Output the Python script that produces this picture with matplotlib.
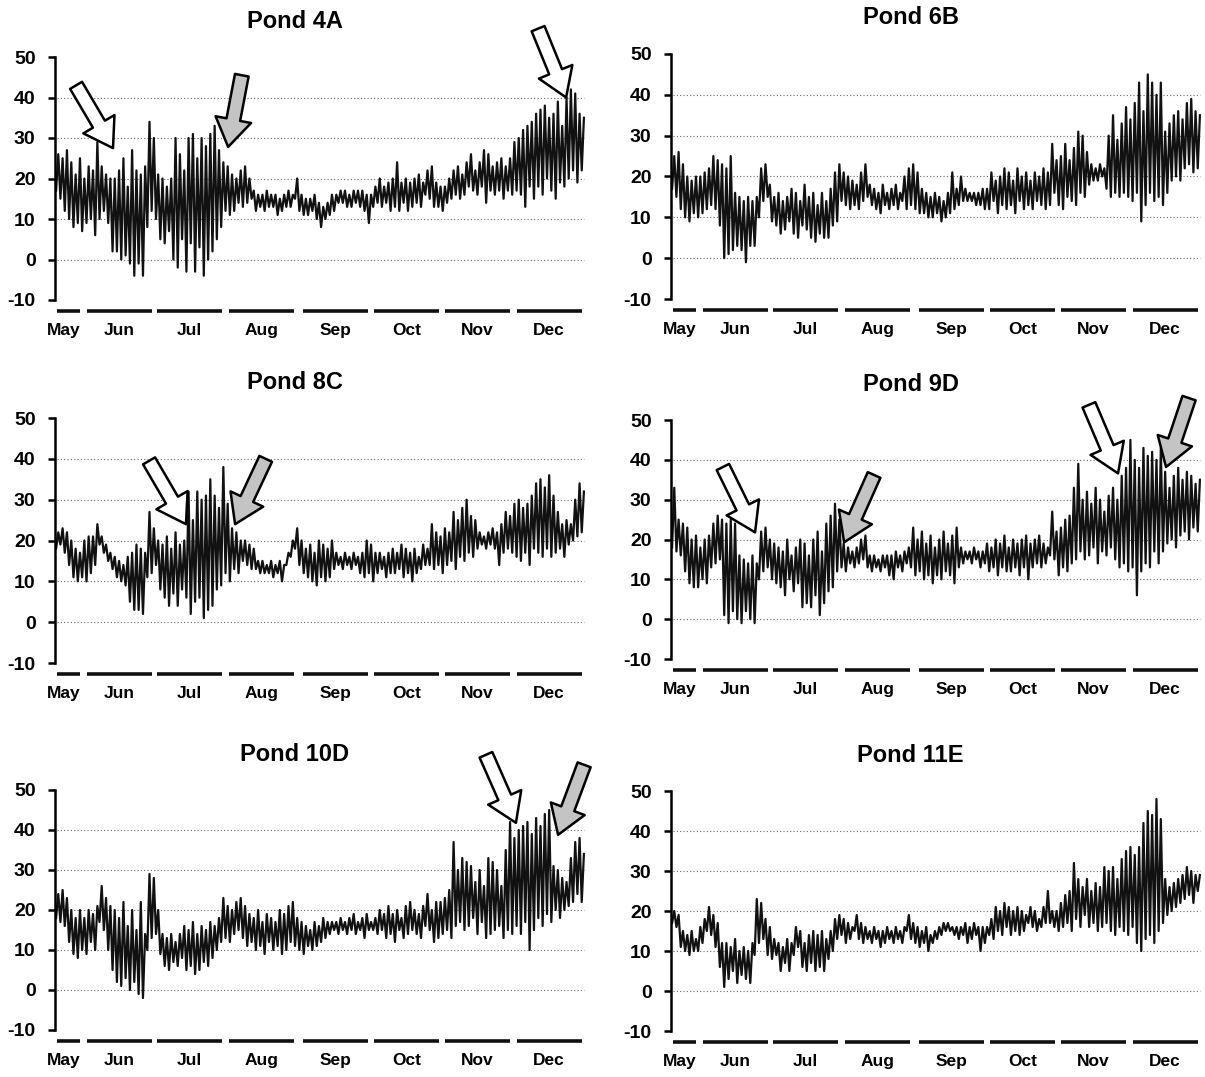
import numpy as np
import matplotlib.pyplot as plt

plt.rcParams['font.family'] = ['Liberation Sans', 'DejaVu Sans']
plt.rcParams['axes.unicode_minus'] = False

# month bars under each panel (x in days from the start of the record)
months = ['May', 'Jun', 'Jul', 'Aug', 'Sep', 'Oct', 'Nov', 'Dec']
month_start = [1, 14.7, 47, 80.3, 114, 147, 179.5, 212.5]
month_end = [11.5, 44.5, 77, 110, 144, 177, 209.5, 242.5]
month_label_x = [4, 29.6, 62, 95, 129, 162, 194.5, 227.5]

# low / high reading for every 2-day block
p4a_lo = [17, 15, 12, 10, 8, 9,
          7, 9, 10, 6, 10, 12, 9, 2,
          2, 0, 1, -1, -4, -1, -4, 8, 12,
          10, 5, 4, 7, 0, -2, 5, -3, 4, -3, 3, -4, 0, 2, 5, 8,
          12, 11, 12, 14, 13, 14, 15, 12, 13, 12, 13, 13, 11, 12, 13, 13, 15,
          12, 11, 11, 12, 10, 8, 10, 11, 12, 14, 14, 13, 13, 14, 13, 12, 9,
          13, 14, 13, 14, 12, 13, 12, 14, 12, 13, 14, 13, 16, 15, 13, 13,
          12, 14, 15, 16, 15, 16, 18, 17, 16, 18, 14, 17, 16, 17, 15, 17, 16,
          17, 16, 13, 18, 15, 18, 16, 20, 17, 15, 19, 18, 20, 22, 19, 22]
p4a_hi = [26, 25, 27, 24, 21, 25,
          20, 23, 22, 29, 23, 21, 20, 20,
          22, 25, 18, 27, 22, 21, 23, 34, 30,
          21, 20, 18, 20, 30, 26, 22, 30, 31, 25, 30, 28, 31, 33, 27, 24,
          23, 21, 20, 22, 23, 20, 17, 16, 16, 17, 16, 16, 15, 16, 17, 16, 20,
          16, 15, 15, 16, 14, 13, 14, 16, 16, 17, 17, 16, 17, 17, 17, 16, 16,
          18, 20, 18, 19, 20, 24, 19, 20, 19, 20, 21, 19, 22, 23, 19, 18,
          18, 20, 22, 23, 21, 24, 26, 22, 24, 27, 26, 23, 24, 25, 23, 25, 29,
          30, 32, 33, 34, 36, 37, 38, 35, 36, 39, 33, 40, 42, 41, 36, 35]

p6b_lo = [17, 15, 12, 10, 9, 11,
          10, 11, 12, 13, 12, 8, 0, 1, 2, 3, 2, -1, 3, 3, 10, 14, 15,
          9, 8, 6, 7, 9, 6, 5, 8, 7, 5, 4, 6, 5, 5, 8, 9,
          14, 13, 12, 13, 12, 14, 15, 13, 12, 11, 13, 12, 13, 12, 14, 12, 13,
          12, 11, 11, 10, 10, 11, 9, 10, 11, 12, 13, 14, 14, 14, 13, 13, 12,
          12, 14, 11, 13, 12, 13, 11, 14, 12, 13, 12, 14, 13, 12, 13, 16,
          13, 12, 15, 14, 13, 16, 15, 18, 19, 19, 20, 17, 15, 16, 15, 16, 15,
          14, 16, 9, 13, 16, 14, 15, 13, 16, 19, 20, 19, 22, 23, 21, 22]
p6b_hi = [25, 26, 23, 20, 19, 20,
          20, 21, 22, 25, 24, 23, 22, 25, 16, 15, 14, 15, 14, 15, 22, 23, 18,
          15, 16, 14, 15, 17, 16, 14, 18, 15, 16, 13, 16, 14, 17, 21, 23,
          21, 20, 19, 18, 21, 23, 18, 17, 16, 18, 16, 17, 18, 16, 20, 22, 23,
          21, 17, 16, 15, 16, 15, 14, 16, 21, 17, 20, 17, 16, 16, 16, 17, 17,
          21, 19, 20, 22, 21, 19, 22, 20, 21, 19, 21, 20, 22, 21, 28, 24,
          25, 28, 24, 27, 31, 30, 26, 23, 22, 23, 22, 30, 35, 29, 33, 37, 34,
          38, 43, 36, 45, 43, 40, 43, 31, 33, 35, 36, 34, 38, 39, 36, 35]

p8c_lo = [18, 19, 17, 14, 11, 10,
          11, 10, 12, 14, 19, 17, 15, 13, 11, 10, 9, 5, 3, 3, 2, 11, 12,
          14, 8, 6, 4, 7, 4, 8, 6, 2, 5, 6, 1, 3, 4, 8, 9,
          12, 10, 13, 12, 15, 14, 13, 13, 12, 12, 12, 11, 12, 10, 14, 16, 18,
          14, 12, 11, 10, 9, 11, 10, 11, 13, 14, 13, 14, 13, 14, 12, 11, 12,
          10, 12, 13, 11, 12, 12, 13, 11, 12, 10, 12, 13, 14, 14, 13, 14,
          12, 14, 15, 13, 16, 15, 17, 16, 18, 19, 18, 19, 18, 14, 17, 18, 17,
          16, 15, 17, 14, 18, 17, 16, 18, 16, 17, 18, 16, 19, 20, 21, 22]
p8c_hi = [22, 23, 22, 20, 18, 17,
          20, 21, 21, 24, 21, 19, 17, 16, 15, 14, 16, 17, 19, 18, 17, 27, 23,
          20, 19, 21, 18, 22, 19, 20, 32, 25, 32, 30, 31, 35, 31, 28, 38,
          29, 23, 22, 20, 20, 19, 18, 15, 15, 14, 15, 14, 15, 14, 17, 20, 23,
          20, 18, 19, 17, 20, 19, 18, 20, 17, 16, 17, 16, 17, 16, 17, 20, 19,
          17, 17, 16, 17, 18, 17, 19, 18, 17, 18, 16, 19, 18, 24, 22, 21,
          23, 22, 27, 25, 28, 30, 26, 25, 22, 21, 22, 23, 22, 24, 27, 26, 29,
          30, 28, 29, 31, 34, 35, 33, 36, 31, 27, 24, 25, 24, 30, 34, 32]

p9d_lo = [18, 17, 16, 12, 9, 8,
          8, 10, 9, 13, 14, 15, 1, -1, 2, 0, -1, 2, 0, -1, 10, 12, 13,
          10, 9, 8, 6, 10, 7, 9, 3, 4, 3, 6, 1, 4, 7, 8, 12,
          13, 12, 14, 13, 14, 15, 13, 12, 13, 12, 13, 11, 10, 13, 12, 14, 13,
          11, 12, 10, 11, 9, 11, 10, 12, 11, 9, 13, 14, 15, 14, 15, 13, 14,
          12, 13, 11, 13, 12, 12, 13, 11, 13, 10, 13, 14, 13, 14, 16, 15,
          11, 13, 12, 14, 15, 17, 15, 16, 18, 14, 17, 16, 18, 15, 13, 14, 12,
          13, 6, 12, 14, 13, 17, 14, 17, 19, 20, 18, 21, 22, 20, 23, 22]
p9d_hi = [33, 25, 24, 23, 20, 21,
          18, 20, 21, 24, 26, 25, 24, 25, 24, 16, 15, 14, 16, 14, 22, 23, 20,
          19, 18, 17, 20, 16, 18, 20, 19, 16, 20, 22, 17, 24, 26, 29, 25,
          19, 18, 17, 18, 20, 21, 16, 16, 15, 16, 16, 16, 17, 16, 17, 18, 23,
          20, 22, 19, 21, 18, 20, 22, 19, 21, 23, 18, 17, 17, 18, 17, 17, 19,
          18, 20, 19, 21, 18, 20, 19, 20, 21, 19, 20, 21, 19, 18, 27, 22,
          23, 25, 26, 33, 39, 30, 32, 29, 33, 30, 27, 31, 33, 30, 36, 38, 45,
          40, 38, 43, 41, 42, 40, 43, 37, 33, 36, 38, 35, 37, 36, 34, 35]

p10d_lo = [18, 17, 16, 12, 9, 8,
           10, 9, 12, 10, 17, 15, 10, 5, 2, 1, 3, 0, 2, -1, -2, 10, 13,
           14, 9, 6, 5, 7, 6, 8, 5, 6, 4, 5, 7, 6, 8, 10, 12,
           13, 12, 14, 15, 13, 11, 12, 10, 11, 9, 12, 10, 11, 9, 10, 12, 11,
           10, 9, 11, 10, 11, 12, 13, 14, 15, 14, 15, 14, 15, 14, 15, 13, 15,
           15, 14, 15, 13, 14, 12, 15, 13, 14, 15, 14, 13, 16, 15, 12, 13,
           14, 15, 13, 16, 17, 15, 16, 18, 14, 17, 13, 14, 15, 16, 13, 15, 14,
           16, 14, 17, 10, 15, 18, 16, 19, 17, 20, 18, 20, 21, 22, 24, 22]
p10d_hi = [24, 25, 23, 20, 18, 20,
           18, 20, 19, 21, 26, 23, 21, 20, 18, 22, 16, 20, 15, 22, 14, 29, 28,
           20, 14, 13, 14, 12, 14, 16, 15, 17, 14, 16, 15, 17, 16, 18, 23,
           21, 20, 22, 23, 21, 19, 18, 20, 17, 19, 18, 17, 20, 19, 21, 22, 18,
           17, 16, 15, 17, 16, 18, 17, 17, 17, 18, 17, 18, 19, 17, 18, 19, 17,
           18, 20, 19, 21, 19, 20, 18, 21, 22, 20, 19, 21, 24, 20, 22, 22,
           23, 25, 37, 30, 33, 32, 31, 27, 30, 26, 33, 32, 30, 26, 35, 42, 38,
           40, 41, 42, 39, 43, 41, 44, 45, 31, 30, 28, 27, 33, 37, 38, 34]

p11e_lo = [17, 16, 11, 10, 9, 10,
           10, 12, 15, 14, 11, 6, 1, 3, 5, 2, 4, 3, 2, 9, 12, 13, 9,
           8, 9, 5, 7, 5, 9, 11, 6, 5, 7, 5, 6, 5, 8, 10, 13,
           14, 12, 13, 15, 13, 12, 13, 12, 13, 11, 12, 13, 12, 13, 12, 15, 13,
           12, 11, 12, 10, 12, 13, 14, 15, 15, 14, 13, 14, 12, 13, 14, 10, 12,
           14, 13, 15, 14, 16, 14, 15, 14, 15, 17, 16, 15, 16, 17, 17, 16,
           15, 16, 17, 15, 18, 16, 19, 16, 17, 15, 16, 17, 15, 14, 16, 15, 14,
           16, 12, 10, 13, 14, 12, 15, 17, 19, 20, 21, 22, 23, 24, 22, 25]
p11e_hi = [20, 19, 15, 14, 15, 13,
           16, 18, 21, 19, 17, 12, 12, 11, 13, 10, 11, 10, 12, 23, 22, 18, 16,
           13, 12, 11, 13, 12, 16, 15, 12, 14, 15, 14, 15, 13, 15, 18, 19,
           18, 17, 16, 19, 17, 16, 15, 16, 15, 15, 16, 15, 16, 15, 16, 19, 17,
           16, 15, 16, 14, 15, 16, 17, 17, 16, 16, 16, 17, 16, 17, 16, 16, 16,
           18, 21, 20, 22, 21, 20, 21, 20, 19, 21, 20, 18, 21, 25, 20, 20,
           22, 24, 25, 32, 28, 26, 28, 25, 27, 26, 31, 30, 31, 28, 33, 35, 36,
           34, 36, 42, 45, 44, 48, 43, 28, 26, 27, 28, 29, 31, 30, 29, 29]

# arrows: (tail day, tail value, tip day, tip value, fill)
arrows_4a = [(9.7, 43, 26.7, 27.5, 'white'), (86, 45.5, 79.7, 27.8, '#c4c4c4'),
             (222.4, 57, 235.3, 40, 'white')]
arrows_8c = [(43.3, 39.5, 60.3, 24, 'white'), (97, 40, 82.9, 24, '#c4c4c4')]
arrows_9d = [(23.9, 38.2, 38.7, 21.8, 'white'), (93.5, 36.2, 79.7, 19.3, '#c4c4c4'),
             (192.4, 53.8, 205.8, 36.6, 'white'), (238.5, 55.5, 227.9, 38.2, '#c4c4c4')]
arrows_10d = [(198.4, 58.8, 212.2, 41.8, 'white'), (243.6, 56.3, 231.6, 38.8, '#c4c4c4')]

W, H = 1205, 1077
fig = plt.figure(figsize=(W / 100, H / 100), dpi=100)

# (title, lows, highs, pixel box: left, top(50), bottom(-10), arrows)
panels = [
    ('Pond 4A', p4a_lo, p4a_hi, (55, 57, 300), arrows_4a),
    ('Pond 6B', p6b_lo, p6b_hi, (671, 54, 299), []),
    ('Pond 8C', p8c_lo, p8c_hi, (55, 418, 663), arrows_8c),
    ('Pond 9D', p9d_lo, p9d_hi, (671, 420, 659), arrows_9d),
    ('Pond 10D', p10d_lo, p10d_hi, (55, 790, 1030), arrows_10d),
    ('Pond 11E', p11e_lo, p11e_hi, (671, 791, 1031), []),
]

for title, lo, hi, (x0, top, bot), arrows in panels:
    hpx = bot - top
    ax = fig.add_axes([x0 / W, 1 - bot / H, 530 / W, hpx / H])

    n = min(len(lo), len(hi))
    k = np.arange(n)
    x = np.empty(2 * n)
    y = np.empty(2 * n)
    x[0::2] = 2 * k + 0.5
    x[1::2] = 2 * k + 1.5
    y[0::2] = lo[:n]
    y[1::2] = hi[:n]

    for g in [0, 10, 20, 30, 40]:
        ax.plot([1, 243.5], [g, g], ls=(0, (1, 2)), color='#666666', lw=0.8, zorder=1)
    ax.plot(x, y, color='#111111', lw=1.6, zorder=2)

    ax.set_xlim(0, 244)
    ax.set_ylim(-10, 50)
    ax.set_yticks(range(-10, 51, 10))
    ax.set_xticks([])
    ax.tick_params(axis='y', length=5, width=1.8, pad=9, labelsize=14)
    for lab in ax.get_yticklabels():
        lab.set_fontweight('bold')
    for s in ['top', 'right', 'bottom']:
        ax.spines[s].set_visible(False)
    ax.spines['left'].set_linewidth(1.8)
    ax.spines['left'].set_bounds(-10, 50)

    # month bars and labels below the axis
    bar_y = -10 - 11 * 60 / hpx
    for m, s, e, cx in zip(months, month_start, month_end, month_label_x):
        ax.plot([s, e], [bar_y, bar_y], color='#111111', lw=2.6,
                solid_capstyle='butt', clip_on=False)
        ax.annotate(m, xy=(cx, bar_y), xytext=(0, -14), textcoords='offset points',
                    ha='center', va='center', fontsize=12.5, fontweight='bold',
                    annotation_clip=False)

    ax.text(0.452, 1 + 36 / hpx, title, transform=ax.transAxes, ha='center',
            va='center', fontsize=17, fontweight='bold')

    for tx, ty, hx, hy, fc in arrows:
        ax.annotate('', xy=(hx, hy), xytext=(tx, ty), annotation_clip=False,
                    arrowprops=dict(arrowstyle='simple,head_length=1.0,head_width=1.3,tail_width=0.5',
                                    mutation_scale=20, fc=fc, ec='black', lw=1.8,
                                    shrinkA=0, shrinkB=0))

fig.savefig('out.png', dpi=100)
